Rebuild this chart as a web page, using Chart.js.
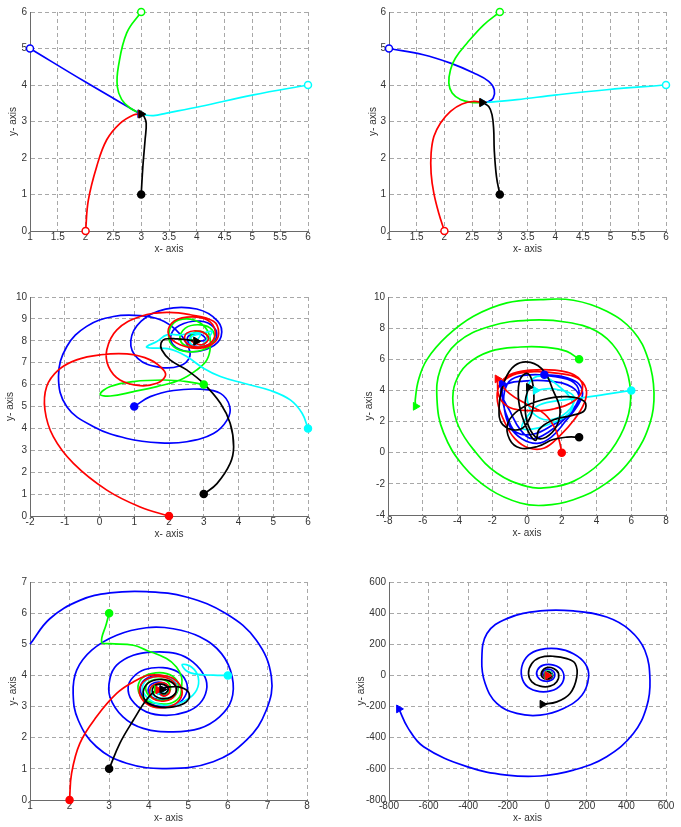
<!DOCTYPE html>
<html>
<head>
<meta charset="utf-8">
<script src="https://cdn.jsdelivr.net/npm/chart.js@4.4.0/dist/chart.umd.min.js"></script>
<style>
body { margin: 0; background: #fff; width: 681px; height: 827px; position: relative; overflow: hidden; }
canvas { position: absolute; }
</style>
</head>
<body>
<canvas id="p1"></canvas>
<canvas id="p2"></canvas>
<canvas id="p3"></canvas>
<canvas id="p4"></canvas>
<canvas id="p5"></canvas>
<canvas id="p6"></canvas>
<script>
/** trajectory data: [x, y] pairs **/

// plot 1
var s1X = [1, 1.5, 2, 2.5, 3, 3.5, 4, 4.5, 5, 5.5, 6];
var s1Y = [0, 1, 2, 3, 4, 5, 6];
var s1Blue = [[1,5],[2,4.08],[2.98,3.21]];
var s1Green = [[3,6],[2.74,5.43],[2.59,4.51],[2.57,3.96],[2.65,3.6],[2.8,3.37],[2.99,3.21]];
var s1Cyan = [[6,4],[5.02,3.73],[4.06,3.41],[3.46,3.23],[3.22,3.16],[3.07,3.18],[3.0,3.21]];
var s1Red = [[2,0],[2.05,0.85],[2.2,1.77],[2.38,2.5],[2.62,2.95],[2.86,3.18],[2.99,3.21]];
var s1Black = [[3,1],[3.03,1.77],[3.07,2.5],[3.09,2.95],[3.05,3.14],[3.0,3.2]];

// plot 2
var s2X = [1, 1.5, 2, 2.5, 3, 3.5, 4, 4.5, 5, 5.5, 6];
var s2Y = [0, 1, 2, 3, 4, 5, 6];
var s2Blue = [[1,5],[1.62,4.83],[2.11,4.6],[2.53,4.33],[2.8,4.1],[2.9,3.87],[2.88,3.64],[2.8,3.55],[2.69,3.52]];
var s2Green = [[3,6],[2.71,5.65],[2.41,5.15],[2.2,4.74],[2.11,4.42],[2.08,4.05],[2.14,3.78],[2.29,3.6],[2.5,3.52],[2.68,3.52]];
var s2Cyan = [[6,4],[4.93,3.87],[4.03,3.73],[3.31,3.6],[2.89,3.54],[2.69,3.52]];
var s2Red = [[2,0],[1.9,0.48],[1.81,1.03],[1.76,1.58],[1.76,2.13],[1.81,2.59],[1.93,2.96],[2.11,3.28],[2.32,3.48],[2.53,3.55],[2.68,3.52]];
var s2Black = [[3,1],[2.94,1.49],[2.9,2.22],[2.89,2.77],[2.86,3.18],[2.8,3.41],[2.68,3.52]];

// plot 3
var s3X = [-2, -1, 0, 1, 2, 3, 4, 5, 6];
var s3Y = [0, 1, 2, 3, 4, 5, 6, 7, 8, 9, 10];
var s3Blue = [[1,5],[1.46,5.45],[2.13,5.73],[2.9,5.79],[3.48,5.6],[3.75,4.99],[3.67,4.38],[3.28,3.77],[2.51,3.39],[1.75,3.34],[0.79,3.54],[-0.17,4.08],[-0.94,4.99],[-1.18,6.37],[-0.94,7.74],[-0.37,8.66],[0.4,9.11],[1.17,9.15],[1.75,8.96],[2.2,8.5],[2.5,7.9],[2.6,7.3],[2.3,6.85],[1.7,6.8],[1.1,7.2],[0.9,8.0],[1.2,8.9],[1.9,9.45],[2.8,9.45],[3.4,8.9],[3.5,8.2],[3.2,7.7],[2.7,7.5],[2.2,7.7],[2.05,8.2],[2.3,8.7],[2.9,8.9],[3.3,8.6],[3.35,8.1],[3.0,7.75],[2.6,7.85],[2.55,8.2],[2.9,8.3],[3.05,8.05],[2.78,7.98]];
var s3Green = [[3,6],[2.51,6.14],[1.84,6.21],[0.98,6.14],[0.31,5.91],[0.02,5.56],[0.31,5.48],[0.98,5.68],[1.65,5.91],[2.32,6.21],[2.8,6.67],[3.09,7.13],[3.19,7.74],[3.14,8.35],[2.9,8.81],[2.51,9.0],[2.13,8.81],[1.99,8.2],[2.13,7.74],[2.51,7.51],[2.99,7.59],[3.28,7.97],[3.24,8.5],[2.9,8.73],[2.47,8.58],[2.32,8.05],[2.61,7.71],[2.99,7.82],[3.09,8.27],[2.8,8.43],[2.61,8.12],[2.78,7.98]];
var s3Cyan = [[6,4],[5.83,4.69],[5.49,5.3],[4.92,5.73],[4.15,6.06],[3.48,6.37],[2.99,6.75],[2.51,7.28],[2.03,7.62],[1.36,7.71],[1.65,7.97],[1.94,8.27],[2.32,8.27],[2.66,8.35],[3.04,8.38],[3.24,8.43],[3.09,8.05],[2.85,7.71],[2.61,7.89],[2.66,8.2],[2.9,8.27],[2.78,7.98]];
var s3Red = [[2,0],[1.17,0.41],[0.21,1.18],[-0.75,2.4],[-1.33,3.62],[-1.57,4.84],[-1.52,5.91],[-1.18,6.67],[-0.66,7.13],[0.02,7.36],[0.79,7.4],[1.46,7.13],[1.84,6.67],[1.89,6.37],[1.65,6.06],[1.17,5.95],[0.59,6.21],[0.26,6.82],[0.21,7.59],[0.5,8.5],[1.17,9.11],[1.94,9.3],[2.61,9.19],[3.28,8.89],[3.43,8.35],[3.28,7.89],[2.9,7.66],[2.32,7.82],[1.99,8.27],[2.08,8.81],[2.51,9.08],[3.09,8.96],[3.33,8.43],[3.19,7.89],[2.8,7.71],[2.47,7.97],[2.51,8.35],[2.9,8.43],[3.14,8.12],[2.95,7.82],[2.66,7.97],[2.78,7.98]];
var s3Black = [[3,1],[3.38,1.48],[3.76,2.4],[3.86,3.16],[3.76,4.23],[3.48,5.15],[2.99,6.06],[2.51,6.67],[2.03,7.13],[1.79,7.59],[1.77,7.89],[1.89,8.08],[2.23,8.09],[2.51,8.05],[2.78,7.98]];

// plot 4
var s4X = [-8, -6, -4, -2, 0, 2, 4, 6, 8];
var s4Y = [-4, -2, 0, 2, 4, 6, 8, 10];
var s4Blue = [[1,5],[2.0,4.9],[2.9,4.5],[3.2,3.8],[2.9,3.0],[2.2,2.0],[1.4,1.0],[0.6,0.6],[-0.3,0.9],[-1.0,1.7],[-1.3,2.8],[-1.3,3.9],[-0.9,4.7],[0.2,5.0],[1.5,4.9],[2.7,4.5],[3.0,3.6],[2.5,2.6],[1.5,1.8],[0.4,1.2],[-0.6,1.3],[-1.1,2.2],[-1.4,3.4],[-1.3,4.3],[-0.2,4.6],[1.3,4.6],[2.6,4.2],[3.0,3.4],[2.3,2.3],[1.2,1.3],[0.3,0.9],[-0.4,1.5],[-1.0,2.7],[-1.5,3.8],[-1.45,4.45]];
var s4Green = [[3,6],[2.29,6.51],[1.14,6.77],[-0.39,6.79],[-2.12,6.51],[-3.46,5.66],[-4.13,4.48],[-4.26,3.19],[-3.94,1.7],[-3.08,0.2],[-1.74,-1.3],[-0.01,-2.16],[1.33,-2.22],[2.67,-1.84],[4.2,-0.66],[5.35,1.05],[5.93,2.98],[5.83,4.91],[5.16,6.62],[4.01,7.8],[2.29,8.38],[0.18,8.51],[-2.12,8.12],[-4.03,7.05],[-4.99,5.34],[-5.18,3.41],[-4.8,1.27],[-3.65,-0.87],[-2.12,-2.37],[-0.39,-3.23],[0.95,-3.38],[2.67,-3.02],[4.59,-1.94],[6.12,-0.23],[7.08,1.91],[7.31,3.84],[6.98,5.98],[6.12,7.8],[4.59,9.08],[2.67,9.79],[0.75,9.83],[-1.16,9.62],[-3.08,8.76],[-4.61,7.48],[-5.76,5.98],[-6.24,4.69],[-6.43,3.41],[-6.41,2.98]];
var s4Cyan = [[6,4],[4.5,3.75],[3.0,3.5],[1.5,3.3],[0.6,3.0],[0.0,2.3],[-0.3,1.6],[0.2,1.5],[1.2,1.8],[2.4,2.5],[2.6,3.3],[1.8,4.3],[0.9,4.9],[0.2,4.6],[0.0,3.6],[0.3,2.6],[1.2,2.1],[2.3,2.6],[2.7,3.6],[1.5,4.1],[0.5,4.0]];
var s4Red = [[2,0],[1.85,0.8],[1.6,1.6],[1.0,2.5],[0.0,3.1],[-1.0,3.8],[-1.4,4.4],[-0.8,5.0],[0.4,5.2],[1.8,5.1],[2.9,4.8],[3.4,4.1],[3.3,3.2],[2.7,2.1],[1.9,1.1],[1.0,0.3],[0.1,0.3],[-0.7,0.9],[-1.3,2.0],[-1.7,3.3],[-1.6,4.3],[-1.0,5.0],[0.2,5.3],[1.6,5.3],[2.7,5.0],[3.2,4.3],[2.8,3.4],[1.5,2.8],[0.2,2.7],[-1.0,2.9],[-1.6,3.6],[-1.7,4.74]];
var s4Black = [[3,1],[2.3,1.0],[1.5,0.85],[0.6,0.4],[-0.4,0.3],[-1.0,0.85],[-1.1,1.9],[-0.4,2.8],[0.9,3.4],[2.3,3.6],[3.3,3.3],[3.3,2.7],[2.6,2.4],[1.5,2.1],[0.7,1.5],[0.5,0.8],[0.1,1.3],[-0.3,2.4],[-0.5,3.6],[-0.4,4.7],[0.0,5.1],[0.3,4.6],[0.4,3.5],[0.2,2.3],[-0.4,1.5],[-1.4,1.8],[-1.6,3.0],[-1.3,4.6],[-0.7,5.6],[0.2,5.8],[1.0,5.2],[1.5,4.0],[1.9,2.8],[1.7,1.7],[1.1,1.0],[0.5,1.0],[0.0,2.0],[-0.1,3.3],[0.1,4.2]];

// plot 5
var s5X = [1, 2, 3, 4, 5, 6, 7, 8];
var s5Y = [0, 1, 2, 3, 4, 5, 6, 7];
var s5Blue = [[1,5],[1.5,5.82],[2.26,6.41],[3.02,6.65],[3.94,6.69],[4.95,6.52],[5.96,5.98],[6.72,5.13],[7.1,3.95],[6.97,2.88],[6.47,1.92],[5.63,1.23],[4.45,1.01],[3.44,1.18],[2.68,1.71],[2.22,2.56],[2.09,3.42],[2.18,4.17],[2.56,4.81],[3.19,5.29],[3.94,5.53],[4.62,5.5],[5.29,5.24],[5.84,4.7],[6.11,3.95],[6.09,3.21],[5.79,2.67],[5.29,2.3],[4.62,2.19],[3.86,2.3],[3.35,2.67],[3.02,3.31],[3.02,3.9],[3.19,4.33],[3.61,4.65],[4.11,4.75],[4.7,4.7],[5.12,4.43],[5.42,3.95],[5.46,3.53],[5.29,3.1],[4.95,2.83],[4.45,2.72],[3.94,2.83],[3.57,3.21],[3.48,3.63],[3.61,3.95],[3.9,4.19],[4.36,4.25],[4.74,4.11],[4.95,3.79],[4.95,3.42],[4.74,3.1],[4.36,2.99],[4.03,3.1],[3.82,3.37],[3.82,3.74],[4.03,3.95],[4.36,3.99],[4.66,3.79],[4.7,3.47],[4.49,3.26],[4.15,3.26],[3.99,3.47],[4.07,3.72],[4.36,3.76],[4.53,3.55],[4.36,3.37],[4.19,3.5],[4.34,3.55]];
var s5Green = [[3,6],[2.93,5.66],[2.81,5.07],[3.02,5.02],[3.61,4.97],[3.94,4.81],[4.45,4.54],[4.7,4.27],[4.83,3.95],[4.83,3.63],[4.78,3.31],[4.53,3.1],[4.2,3.1],[3.86,3.26],[3.73,3.58],[3.82,3.9],[4.07,4.06],[4.45,4.06],[4.7,3.85],[4.74,3.53],[4.57,3.26],[4.24,3.21],[3.99,3.37],[3.94,3.69],[4.15,3.87],[4.45,3.82],[4.55,3.55],[4.36,3.4],[4.2,3.55]];
var s5Cyan = [[6,4],[5.63,4.01],[5.2,4.04],[4.95,4.15],[4.85,4.35],[5.08,4.27],[5.25,3.95],[5.21,3.53],[4.95,3.21],[4.53,3.04],[4.11,3.15],[3.86,3.47],[3.9,3.79],[4.15,3.95],[4.49,3.93],[4.7,3.69],[4.66,3.37],[4.41,3.26],[4.11,3.37],[4.07,3.63],[4.28,3.74],[4.49,3.61],[4.41,3.42],[4.28,3.5]];
var s5Red = [[2,0],[2.05,0.85],[2.26,1.82],[2.68,2.67],[3.19,3.42],[3.61,3.79],[3.94,3.99],[4.28,4.01],[4.62,3.9],[4.83,3.58],[4.78,3.21],[4.49,2.99],[4.11,2.99],[3.82,3.26],[3.78,3.63],[3.99,3.9],[4.36,3.95],[4.66,3.74],[4.66,3.37],[4.41,3.18],[4.11,3.26],[4.03,3.55],[4.2,3.74],[4.45,3.72],[4.53,3.47],[4.36,3.34],[4.24,3.53]];
var s5Black = [[3,1],[3.27,1.82],[3.61,2.56],[3.94,3.21],[4.2,3.53],[4.53,3.63],[4.83,3.61],[5.02,3.42],[4.95,3.15],[4.62,2.99],[4.24,2.99],[3.94,3.15],[3.86,3.47],[3.99,3.76],[4.28,3.87],[4.57,3.79],[4.7,3.53],[4.57,3.31],[4.32,3.26],[4.12,3.4],[4.12,3.63],[4.32,3.72],[4.49,3.58],[4.41,3.42],[4.28,3.47],[4.34,3.55]];

// plot 6
var s6X = [-800, -600, -400, -200, 0, 200, 400, 600];
var s6Y = [-800, -600, -400, -200, 0, 200, 400, 600];
var s6Blue = [[1,5],[5,8],[-7,-9],[-24,8],[-12,34],[16,38],[38,8],[22,-30],[-20,-35],[-50,-8],[-50,34],[-20,66],[32,66],[74,34],[82,-30],[48,-84],[-20,-105],[-87,-84],[-124,-30],[-129,55],[-95,130],[-36,166],[48,172],[132,140],[192,75],[209,-10],[175,-127],[82,-212],[-36,-255],[-154,-244],[-255,-180],[-314,-52],[-331,98],[-305,269],[-204,365],[-36,414],[132,414],[300,375],[418,290],[493,162],[519,-31],[502,-202],[435,-373],[300,-522],[132,-608],[-36,-646],[-204,-640],[-406,-586],[-625,-458],[-705,-335],[-750,-215]];
var s6Green = [[3,6],[-8,10],[-10,-6],[6,-8],[8,4],[0,2]];
var s6Cyan = [[6,4],[10,-6],[-4,-10],[-9,4],[2,9],[1,1]];
var s6Red = [[2,0],[9,-9],[-6,-11],[-11,3],[3,11],[1,0]];
var s6Black = [[3,1],[1,4],[-2,17],[16,23],[27,-2],[5,-24],[-24,-13],[-28,23],[-2,51],[32,44],[57,12],[48,-41],[14,-69],[-36,-69],[-78,-41],[-95,12],[-78,76],[-36,115],[32,123],[99,108],[141,76],[149,-10],[115,-116],[48,-170],[-25,-185]];

var BLUE = '#0000ff', GREEN = '#00ff00', CYAN = '#00ffff', RED = '#ff0000', BLACK = '#000000';

Chart.defaults.font.family = '"Liberation Sans", Arial, sans-serif';
Chart.defaults.font.size = 10;
Chart.defaults.color = '#333';

function toXY(pts) {
    return pts.map(function (p) { return { x: p[0], y: p[1] }; });
}

// frame = canvas box on the page, area = plot box (left, top, right, bottom)
function drawPlot(id, frame, area, yTitleX, xTicks, yTicks, curves, hollow) {
    var cv = document.getElementById(id);
    cv.width = frame[2];
    cv.height = frame[3];
    cv.style.left = frame[0] + 'px';
    cv.style.top = frame[1] + 'px';

    var padLeft = yTitleX - 6 - frame[0];
    var yWidth = area[0] - frame[0] - padLeft;
    var n = curves.length;
    var datasets = [];

    curves.forEach(function (c, i) {
        datasets.push({
            data: toXY(c.pts),
            borderColor: c.color,
            borderWidth: 1.7,
            pointRadius: 0,
            tension: 0.4,
            fill: false,
            clip: 4,
            order: 40 + n - i
        });
        if (c.start !== false) {
            datasets.push({
                data: toXY([c.pts[0]]),
                showLine: false,
                pointStyle: 'circle',
                pointRadius: 3.5,
                pointBorderWidth: 1.5,
                pointBorderColor: c.color,
                pointBackgroundColor: (hollow && c.color !== BLACK) ? '#ffffff' : c.color,
                clip: false,
                order: 20 + n - i
            });
        }
        datasets.push({
            data: toXY([c.pts[c.pts.length - 1]]),
            showLine: false,
            pointStyle: 'triangle',
            rotation: 90,
            pointRadius: 4.5,
            pointBorderWidth: 1,
            pointBorderColor: c.color,
            pointBackgroundColor: c.color,
            clip: false,
            order: n - i
        });
    });

    function axis(ticks, title, pad, fit) {
        return {
            type: 'linear',
            min: ticks[0],
            max: ticks[ticks.length - 1],
            afterBuildTicks: function (s) { s.ticks = ticks.map(function (v) { return { value: v }; }); },
            afterFit: fit,
            grid: { color: '#a8a8a8', lineWidth: 1, drawTicks: false },
            border: { color: '#6a6a6a', width: 1, dash: [4, 3] },
            ticks: { padding: pad, autoSkip: false, maxRotation: 0, color: '#333',
                     callback: function (v) { return String(v); } },
            title: { display: true, text: title, padding: 0, color: '#333' }
        };
    }

    new Chart(cv, {
        type: 'line',
        data: { datasets: datasets },
        options: {
            responsive: false,
            animation: false,
            events: [],
            layout: {
                padding: {
                    left: padLeft,
                    top: area[1] - frame[1],
                    right: frame[0] + frame[2] - area[2],
                    bottom: frame[1] + frame[3] - (area[3] + 24)
                }
            },
            plugins: { legend: false, tooltip: { enabled: false } },
            scales: {
                x: axis(xTicks, 'x- axis', 0, function (s) { s.height = 24; }),
                y: axis(yTicks, 'y- axis', 3, function (s) { s.width = yWidth; })
            }
        }
    });
}

function five(b, g, c, r, k) {
    return [
        { pts: b, color: BLUE },
        { pts: g, color: GREEN },
        { pts: c, color: CYAN },
        { pts: r, color: RED },
        { pts: k, color: BLACK }
    ];
}

drawPlot('p1', [0, 0, 340, 262], [30, 12, 308, 231], 13, s1X, s1Y, five(s1Blue, s1Green, s1Cyan, s1Red, s1Black), true);
drawPlot('p2', [340, 0, 341, 262], [389, 12, 666, 231], 373, s2X, s2Y, five(s2Blue, s2Green, s2Cyan, s2Red, s2Black), true);
drawPlot('p3', [0, 262, 340, 278], [30, 297, 308, 516], 10, s3X, s3Y, five(s3Blue, s3Green, s3Cyan, s3Red, s3Black), false);
drawPlot('p4', [340, 262, 341, 278], [388, 297, 666, 515], 369, s4X, s4Y, five(s4Blue, s4Green, s4Cyan, s4Red, s4Black), false);

var c5 = five(s5Blue, s5Green, s5Cyan, s5Red, s5Black);
c5[0].start = false;
drawPlot('p5', [0, 540, 340, 287], [30, 582, 307, 800], 13, s5X, s5Y, c5, false);

var c6 = five(s6Blue, s6Green, s6Cyan, s6Red, s6Black);
drawPlot('p6', [340, 540, 341, 287], [389, 582, 666, 800], 361, s6X, s6Y, c6, false);
</script>
</body>
</html>
